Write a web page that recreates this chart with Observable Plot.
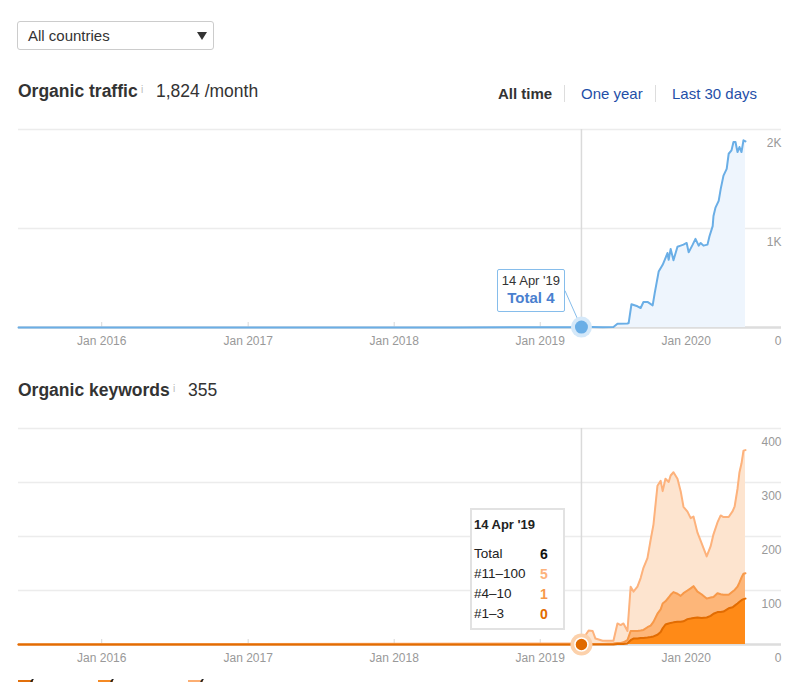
<!DOCTYPE html>
<html>
<head>
<meta charset="utf-8">
<script src="https://cdn.jsdelivr.net/npm/d3@7"></script>
<script src="https://cdn.jsdelivr.net/npm/@observablehq/plot@0.6"></script>
<style>
  body { margin: 0; background: #fff; font-family: Arial, "Liberation Sans", sans-serif; color: #333; }
  #page { position: relative; width: 801px; height: 683px; overflow: hidden; }
  .abs { position: absolute; white-space: nowrap; }
  .dropdown { left: 17px; top: 21px; width: 197px; height: 29px; box-sizing: border-box; border: 1px solid #ccc; border-radius: 3px; font-size: 15px; line-height: 27px; padding-left: 10px; color: #333; }
  .tri { left: 197px; top: 32px; width: 0; height: 0; border-left: 5px solid transparent; border-right: 5px solid transparent; border-top: 8px solid #333; }
  .title { font-size: 17.5px; font-weight: bold; line-height: 20px; color: #333; }
  .info { font-size: 10px; color: #bbb; line-height: 12px; }
  .num { font-size: 17.5px; line-height: 20px; color: #333; }
  .tab { font-size: 15px; line-height: 20px; color: #1f4fa8; }
  .tab.active { font-weight: bold; color: #333; }
  .sep { width: 1px; height: 17px; background: #ddd; }
  .chart { position: absolute; left: 0; }
  .tip1 { box-sizing: border-box; width: 68px; height: 43px; border: 1px solid #86bdeb; border-radius: 2px; background: #fff; text-align: center; }
  .tip2 { box-sizing: border-box; width: 95px; height: 122px; border: 2px solid #e2e2e2; background: #fff; }
  .tip2 .r { position: absolute; font-size: 13.5px; line-height: 16px; color: #222; }
  .tip2 .v { position: absolute; font-size: 14px; line-height: 16px; font-weight: bold; }
  .leg { height: 2px; width: 15px; top: 680px; }
  .chk { width: 2px; height: 3px; top: 679px; background: #222; transform: skewX(-30deg); }
</style>
</head>
<body>
<div id="page">
  <div class="abs dropdown">All countries</div>
  <div class="abs tri"></div>

  <div class="abs title" style="left:18px;top:81px;">Organic traffic</div>
  <div class="abs info" style="left:141px;top:84px;">i</div>
  <div class="abs num" style="left:156px;top:81px;">1,824 /month</div>

  <div class="abs tab active" style="left:498px;top:84px;">All time</div>
  <div class="abs sep" style="left:564px;top:85px;"></div>
  <div class="abs tab" style="left:581px;top:84px;">One year</div>
  <div class="abs sep" style="left:655px;top:85px;"></div>
  <div class="abs tab" style="left:672px;top:84px;">Last 30 days</div>

  <div class="abs title" style="left:18px;top:380px;">Organic keywords</div>
  <div class="abs info" style="left:173px;top:383px;">i</div>
  <div class="abs num" style="left:188px;top:380px;">355</div>

  <div id="c1" class="chart" style="top:120px;"></div>
  <div id="c2" class="chart" style="top:419px;"></div>

  <div class="abs leg" style="left:18px;background:#e2700c;"></div>
  <div class="abs chk" style="left:31px;"></div>
  <div class="abs leg" style="left:98px;background:#f58a24;"></div>
  <div class="abs chk" style="left:111px;"></div>
  <div class="abs leg" style="left:188px;background:#fcae72;"></div>
  <div class="abs chk" style="left:201px;"></div>
</div>
<script>
// ---------- data ----------
const trafficDates = ["2015-06-07","2016-06-01","2017-06-01","2018-06-01","2019-01-15","2019-03-20","2019-04-14","2019-05-10","2019-06-06","2019-07-03","2019-07-13","2019-08-07","2019-08-10","2019-08-17","2019-09-01","2019-09-09","2019-09-16","2019-09-26","2019-10-09","2019-10-14","2019-10-24","2019-11-03","2019-11-10","2019-11-15","2019-11-18","2019-11-23","2019-11-30","2019-12-05","2019-12-10","2019-12-18","2019-12-25","2020-01-02","2020-01-07","2020-01-17","2020-01-24","2020-02-01","2020-02-06","2020-02-13","2020-02-23","2020-02-28","2020-03-07","2020-03-09","2020-03-14","2020-03-22","2020-03-27","2020-04-03","2020-04-11","2020-04-16","2020-04-23","2020-04-28","2020-05-03","2020-05-08","2020-05-13","2020-05-18","2020-05-23","2020-05-28"];
const trafficValues = [0,0,0,1,2,3,4,4,3,5,37,40,45,235,214,197,258,258,224,344,565,633,701,752,684,793,680,748,816,827,837,854,759,837,895,827,854,827,837,922,1024,1126,1211,1279,1398,1534,1602,1755,1789,1874,1874,1772,1823,1772,1891,1880];

const kwDates = ["2015-06-07","2019-03-30","2019-04-14","2019-05-02","2019-05-12","2019-05-19","2019-06-06","2019-07-03","2019-07-13","2019-07-21","2019-07-28","2019-08-07","2019-08-15","2019-08-22","2019-09-01","2019-09-09","2019-09-16","2019-09-26","2019-10-04","2019-10-11","2019-10-21","2019-10-29","2019-11-03","2019-11-10","2019-11-18","2019-11-23","2019-11-30","2019-12-10","2019-12-18","2019-12-25","2020-01-04","2020-01-12","2020-01-19","2020-01-29","2020-02-08","2020-02-21","2020-03-02","2020-03-09","2020-03-19","2020-03-27","2020-04-03","2020-04-16","2020-04-26","2020-05-01","2020-05-08","2020-05-13","2020-05-18","2020-05-23","2020-05-28"];
const kwTop3   = [0,0,0,0,0,0,0,0,1,1,1,2,8,11,11,12,12,13,14,15,18,23,30,37,39,40,41,42,42,43,47,48,49,50,49,50,53,57,60,60,61,67,69,72,76,79,82,84,85];
const kwTop10  = [0,0,1,1,1,1,1,2,2,2,3,6,17,14,14,14,15,19,21,27,39,42,46,43,48,52,56,52,48,52,53,56,59,48,44,35,34,31,35,33,31,25,29,29,31,36,42,47,47];
const kwTop100 = [0,2,5,25,24,10,6,5,36,33,35,17,82,73,82,97,115,128,159,180,237,238,208,227,214,221,222,213,194,160,146,130,129,109,95,78,95,116,131,146,144,144,149,155,181,204,211,228,228];

const seriesNames = ["#1–3", "#4–10", "#11–100"];
const seriesFill = ["#ff8a17", "#fdb679", "#fde4cf"];
const seriesStroke = ["#e26c02", "#f7994a", "#fdb27c"];

const xTicks = ["2016-01-01","2017-01-01","2018-01-01","2019-01-01","2020-01-01"];
const xDomain = ["2015-06-07","2020-08-26"];
const trafficTicks = [0, 1000, 2000];
const kwTicks = [0, 100, 200, 300, 400];

const hoverDate = "2019-04-14";
const hoverTraffic = 4;
const hoverKw = {total: 6, "#11–100": 5, "#4–10": 1, "#1–3": 0};

// ---------- build ----------
const parse = d3.utcParse("%Y-%m-%d");
const traffic = trafficDates.map((d, i) => ({date: parse(d), value: trafficValues[i]}));
const kw = [];
// rows for the top series first so that the darker lines draw last (on top)
[2, 1, 0].forEach(s => {
  const vals = [kwTop3, kwTop10, kwTop100][s];
  kwDates.forEach((d, i) => kw.push({date: parse(d), series: seriesNames[s], value: vals[i], fill: seriesFill[s], stroke: seriesStroke[s]}));
});
const hd = parse(hoverDate);
const font = 'Arial, "Liberation Sans", sans-serif';
const xt = xTicks.map(parse);

const common = {
  width: 801, marginLeft: 18, marginRight: 20, marginTop: 9, marginBottom: 28,
  style: {fontFamily: font, fontSize: "12px", color: "#999", background: "transparent", overflow: "visible"},
  x: {type: "utc", domain: xDomain.map(parse)}
};

const chart1 = Plot.plot({
  ...common, height: 235,
  y: {domain: [0, 2000]},
  marks: [
    Plot.ruleY(trafficTicks.filter(v => v > 0), {stroke: "#ececec", strokeWidth: 1.5}),
    Plot.ruleY([0], {stroke: "#dddddd", strokeWidth: 2.5}),
    Plot.ruleX(xt, {y1: 0, y2: 0, insetTop: -5, stroke: "#d8d8d8"}),
    Plot.axisX(xt, {tickSize: 0, tickPadding: 9, label: null, tickFormat: d => `Jan ${d.getUTCFullYear()}`, fill: "#999"}),
    Plot.axisY(trafficTicks, {anchor: "right", tickSize: 0, tickPadding: 0, label: null, textAnchor: "end", dx: 0, dy: 14, fill: "#999",
      tickFormat: d => d === 0 ? "0" : (d / 1000) + "K"}),
    Plot.areaY(traffic, {x: "date", y: "value", fill: "#eef5fd"}),
    Plot.ruleX([hd], {stroke: "#dadada", strokeWidth: 1.5}),
    Plot.lineY(traffic, {x: "date", y: "value", stroke: "#6aaee6", strokeWidth: 2}),
    Plot.dot([{date: hd, value: hoverTraffic}], {x: "date", y: "value", r: 10.5, fill: "#d4e8f9"}),
    Plot.dot([{date: hd, value: hoverTraffic}], {x: "date", y: "value", r: 6.5, fill: "#6aaee6"})
  ]
});
document.getElementById("c1").appendChild(chart1);

const chart2 = Plot.plot({
  ...common, height: 253,
  y: {domain: [0, 400]},
  color: {type: "identity"},
  marks: [
    Plot.ruleY(kwTicks.filter(v => v > 0), {stroke: "#ececec", strokeWidth: 1.5}),
    Plot.ruleY([0], {stroke: "#dddddd", strokeWidth: 2.5}),
    Plot.ruleX(xt, {y1: 0, y2: 0, insetTop: -5, stroke: "#d8d8d8"}),
    Plot.axisX(xt, {tickSize: 0, tickPadding: 9, label: null, tickFormat: d => `Jan ${d.getUTCFullYear()}`, fill: "#999"}),
    Plot.axisY(kwTicks, {anchor: "right", tickSize: 0, tickPadding: 0, label: null, textAnchor: "end", dx: 0, dy: 14, fill: "#999"}),
    Plot.areaY(kw, Plot.stackY({x: "date", y: "value", z: "series", fill: "fill", order: seriesNames})),
    Plot.ruleX([hd], {stroke: "#dadada", strokeWidth: 1.5}),
    Plot.lineY(kw, Plot.stackY2({x: "date", y: "value", z: "series", stroke: "stroke", order: seriesNames, strokeWidth: 2})),
    Plot.dot([{date: hd, value: hoverKw["#1–3"]}], {x: "date", y: "value", r: 11, fill: "#fcd1ab"}),
    Plot.dot([{date: hd, value: hoverKw["#1–3"]}], {x: "date", y: "value", r: 6.5, fill: "#e06a00", stroke: "#fff", strokeWidth: 1.5})
  ]
});
document.getElementById("c2").appendChild(chart2);

// ---------- tooltips ----------
const page = document.getElementById("page");
const px1 = chart1.scale("x").apply(hd);
const py1 = 120 + chart1.scale("y").apply(hoverTraffic);
// connector from tooltip box to point
d3.select(chart1).insert("line", "g[aria-label=dot]")
  .attr("x1", px1 - 16).attr("y1", py1 - 120 - 36)
  .attr("x2", px1).attr("y2", py1 - 120)
  .attr("stroke", "#86bdeb").attr("stroke-width", 1);

const t1 = document.createElement("div");
t1.className = "abs tip1";
t1.style.left = (px1 - 84) + "px";
t1.style.top = (py1 - 58) + "px";
t1.innerHTML = `<div style="font-size:13px;line-height:16px;color:#333;padding-top:3px;">${d3.utcFormat("%-d %b '%y")(hd)}</div>` +
  `<div style="font-size:15px;line-height:18px;font-weight:bold;color:#4a80cf;">Total ${hoverTraffic}</div>`;
page.appendChild(t1);

const px2 = chart2.scale("x").apply(hd);
const py2 = 419 + chart2.scale("y").apply(0);
const t2 = document.createElement("div");
t2.className = "abs tip2";
t2.style.left = (px2 - 111) + "px";
t2.style.top = (py2 - 136) + "px";
const rows = [["Total", hoverKw.total, "#111"], ["#11–100", hoverKw["#11–100"], seriesStroke[2]], ["#4–10", hoverKw["#4–10"], seriesStroke[1]], ["#1–3", hoverKw["#1–3"], seriesStroke[0]]];
let html = `<div class="r" style="left:2px;top:7px;font-weight:bold;font-size:13px;">${d3.utcFormat("%-d %b '%y")(hd)}</div>`;
rows.forEach((r, i) => {
  const top = 36 + i * 20;
  html += `<div class="r" style="left:2px;top:${top}px;">${r[0]}</div><div class="v" style="left:68px;top:${top}px;color:${r[2]};">${r[1]}</div>`;
});
t2.innerHTML = html;
page.appendChild(t2);
</script>
</body>
</html>
